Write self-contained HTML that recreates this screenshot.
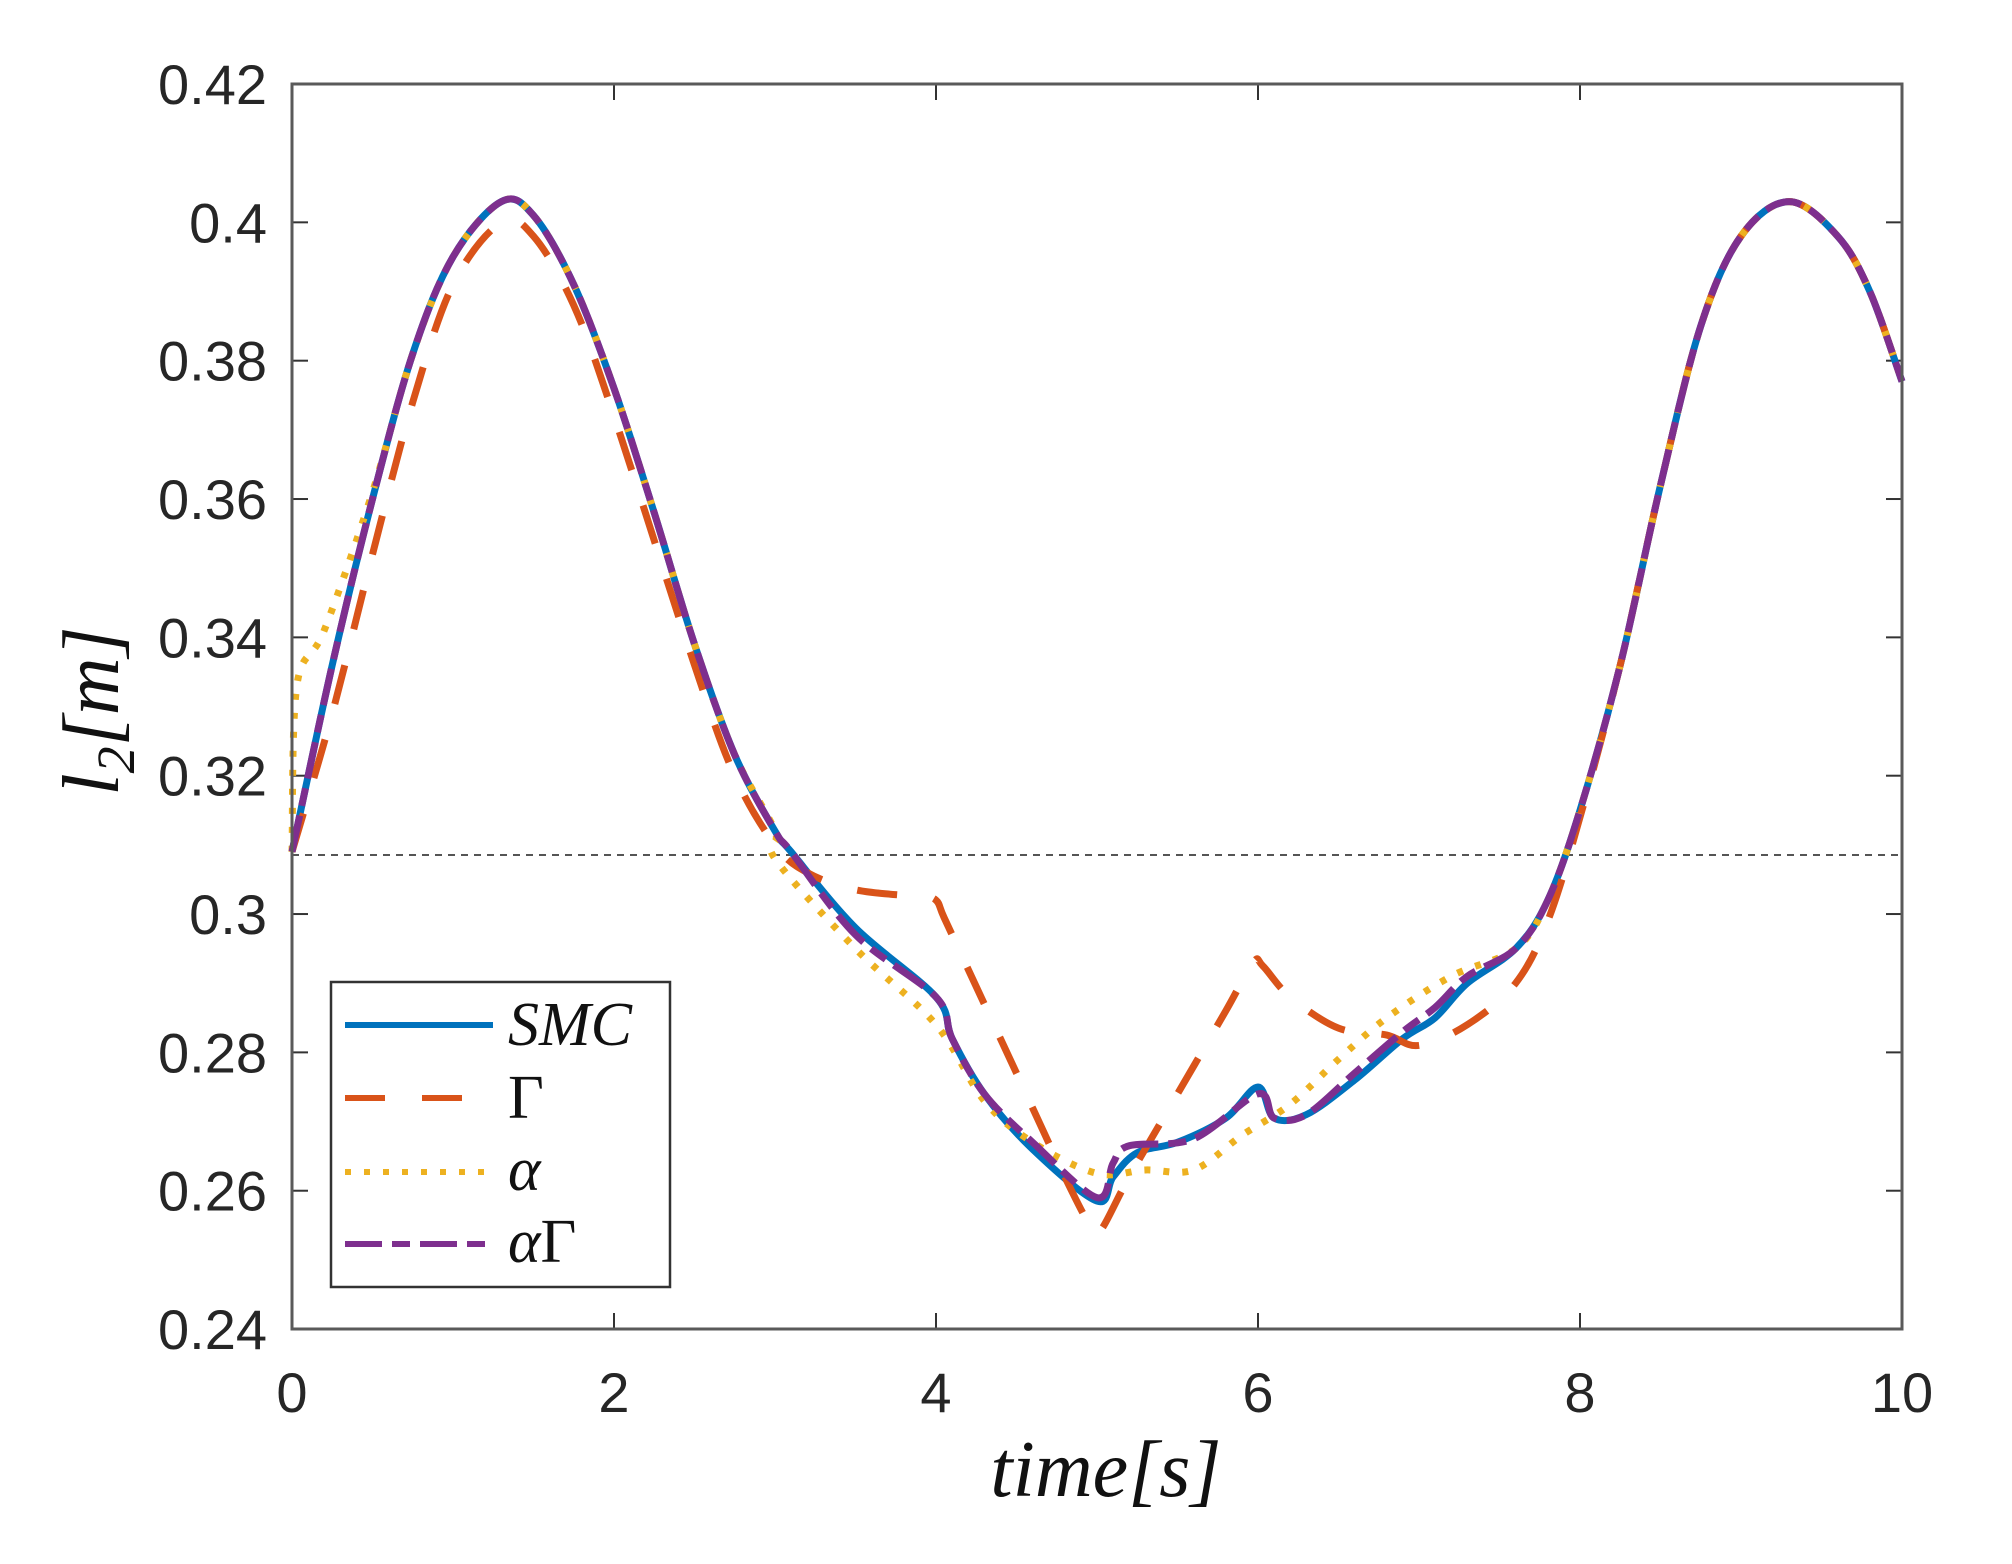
<!DOCTYPE html>
<html><head><meta charset="utf-8"><style>
html,body{margin:0;padding:0;background:#fff;}
svg{display:block;}
text{font-family:"Liberation Sans",sans-serif;fill:#262626;}
.s{font-family:"Liberation Serif",serif;font-style:italic;fill:#111;}
</style></head><body>
<svg id="c" width="2012" height="1564" viewBox="0 0 2012 1564" xmlns="http://www.w3.org/2000/svg">
<rect width="2012" height="1564" fill="#fff"/>
<g id="ticks"></g>
<line x1="292" y1="855" x2="1902" y2="855" stroke="#555" stroke-width="2" stroke-dasharray="7,6"/>
<g id="curves" fill="none" stroke-linejoin="round"></g>
<rect x="292" y="84" width="1610" height="1245" fill="none" stroke="#5a5a5a" stroke-width="3"/>
<g>
<rect x="331" y="982" width="339" height="305" fill="#fff" stroke="#333" stroke-width="2.5"/>
<line x1="345" y1="1025" x2="493" y2="1025" stroke="#0072BD" stroke-width="6"/>
<line x1="345" y1="1098" x2="493" y2="1098" stroke="#D95319" stroke-width="6" stroke-dasharray="40,37"/>
<line x1="345" y1="1172" x2="493" y2="1172" stroke="#EDB120" stroke-width="6" stroke-dasharray="6,13"/>
<line x1="345" y1="1244" x2="493" y2="1244" stroke="#7E2F8E" stroke-width="6" stroke-dasharray="37,10,18,10"/>
<text class="s" x="508" y="1045" font-size="62">SMC</text>
<text class="s" x="508" y="1118" font-size="62" style="font-style:normal">Γ</text>
<text class="s" x="508" y="1190" font-size="62">α</text>
<text class="s" x="508" y="1262" font-size="62">α<tspan style="font-style:normal">Γ</tspan></text>
</g>
<text class="s" x="1106" y="1496" font-size="80" text-anchor="middle">time[s]</text>
<text class="s" transform="translate(118,711) rotate(-90)" font-size="80" text-anchor="middle">l<tspan font-size="54" dy="16">2</tspan><tspan dy="-16">[m]</tspan></text>
</svg>
<script>
var X=t=>292+161*t, Y=v=>84+(0.42-v)*6917;
var ns="http://www.w3.org/2000/svg";
var tg=document.getElementById('ticks'), svg=document.getElementById('c');
function el(p,tag,a,txt){var e=document.createElementNS(ns,tag);for(var k in a)e.setAttribute(k,a[k]);if(txt)e.textContent=txt;p.appendChild(e);return e;}
for(var i=0;i<=5;i++){var x=X(2*i);
 el(tg,'line',{x1:x,y1:1329,x2:x,y2:1313,stroke:'#333','stroke-width':2});
 el(tg,'line',{x1:x,y1:84,x2:x,y2:100,stroke:'#333','stroke-width':2});
 el(svg,'text',{x:x,y:1412,'font-size':56,'text-anchor':'middle'},String(2*i));}
var yl=['0.24','0.26','0.28','0.3','0.32','0.34','0.36','0.38','0.4','0.42'];
yl.forEach(function(s){var y=Y(parseFloat(s));
 el(tg,'line',{x1:292,y1:y,x2:308,y2:y,stroke:'#333','stroke-width':2});
 el(tg,'line',{x1:1902,y1:y,x2:1886,y2:y,stroke:'#333','stroke-width':2});
 el(svg,'text',{x:267,y:y+20,'font-size':56,'text-anchor':'end'},s);});
var common=[[8.0,0.315],[8.25,0.336],[8.5,0.362],[8.75,0.385],[9.0,0.398],[9.3,0.403],[9.6,0.398],[9.8,0.39],[10,0.377]];
var rise=[[0.25,0.336],[0.5,0.36],[0.75,0.381],[1.0,0.395],[1.3,0.403],[1.5,0.401],[1.75,0.391],[2.0,0.376],[2.25,0.358],[2.5,0.339],[2.75,0.323],[3.0,0.312],[3.1,0.309]];
var smc=[[0,0.309]].concat(rise,[[3.5,0.298],[4.0,0.288],[4.1,0.282],[4.3,0.274],[4.6,0.266],[5.0,0.2585],[5.1,0.262],[5.25,0.2655],[5.5,0.267],[5.8,0.2705],[6.0,0.275],[6.1,0.2705],[6.3,0.271],[6.6,0.276],[6.9,0.282],[7.1,0.285],[7.3,0.290],[7.6,0.295],[7.8,0.302]],common);
var gam=[[0,0.309],[0.25,0.329],[0.5,0.352],[0.75,0.374],[1.0,0.391],[1.3,0.400],[1.5,0.398],[1.75,0.388],[2.0,0.372],[2.5,0.336],[2.75,0.320],[3.0,0.310],[3.2,0.306],[3.5,0.3035],[3.9,0.3025],[4.0,0.302],[4.05,0.2995],[4.2,0.292],[4.5,0.277],[4.8,0.262],[4.97,0.2545],[5.03,0.2545],[5.2,0.262],[5.5,0.274],[5.8,0.286],[5.97,0.293],[6.03,0.2925],[6.2,0.288],[6.5,0.2835],[6.8,0.2825],[7.0,0.281],[7.3,0.284],[7.6,0.290],[7.8,0.299],[8.0,0.314]].concat(common.slice(1));
var alp=[[0,0.309],[0.03,0.333],[0.2,0.341],[0.5,0.361]].concat(rise.slice(2,12),[[3.0,0.308],[3.5,0.295],[4.0,0.284],[4.3,0.273],[4.6,0.267],[5.0,0.2625],[5.3,0.263],[5.6,0.263],[5.9,0.268],[6.2,0.2725],[6.5,0.279],[6.8,0.285],[7.2,0.291],[7.6,0.295],[7.8,0.302]],common);
var ag=[[0,0.309]].concat(rise,[[3.5,0.297],[4.0,0.288],[4.1,0.282],[4.3,0.274],[4.6,0.267],[5.0,0.259],[5.1,0.264],[5.2,0.2665],[5.6,0.2675],[6.0,0.274],[6.1,0.2705],[6.3,0.271],[6.6,0.277],[6.9,0.283],[7.1,0.2865],[7.3,0.291],[7.6,0.295],[7.8,0.302]],common);
function path(p){var q=p.map(a=>[X(a[0]),Y(a[1])]);var d='M'+q[0][0]+','+q[0][1];
 for(var i=0;i<q.length-1;i++){var p0=q[Math.max(i-1,0)],p1=q[i],p2=q[i+1],p3=q[Math.min(i+2,q.length-1)];
  d+=' C'+(p1[0]+(p2[0]-p0[0])/6)+','+(p1[1]+(p2[1]-p0[1])/6)+' '+(p2[0]-(p3[0]-p1[0])/6)+','+(p2[1]-(p3[1]-p1[1])/6)+' '+p2[0]+','+p2[1];}
 return d;}
var cg=document.getElementById('curves');
el(cg,'path',{d:path(smc),stroke:'#0072BD','stroke-width':7});
el(cg,'path',{d:path(gam),stroke:'#D95319','stroke-width':7,'stroke-dasharray':'40,37'});
el(cg,'path',{d:path(alp),stroke:'#EDB120','stroke-width':7,'stroke-dasharray':'6,13'});
el(cg,'path',{d:path(ag),stroke:'#7E2F8E','stroke-width':7,'stroke-dasharray':'37,10,18,10'});
</script>
</body></html>
